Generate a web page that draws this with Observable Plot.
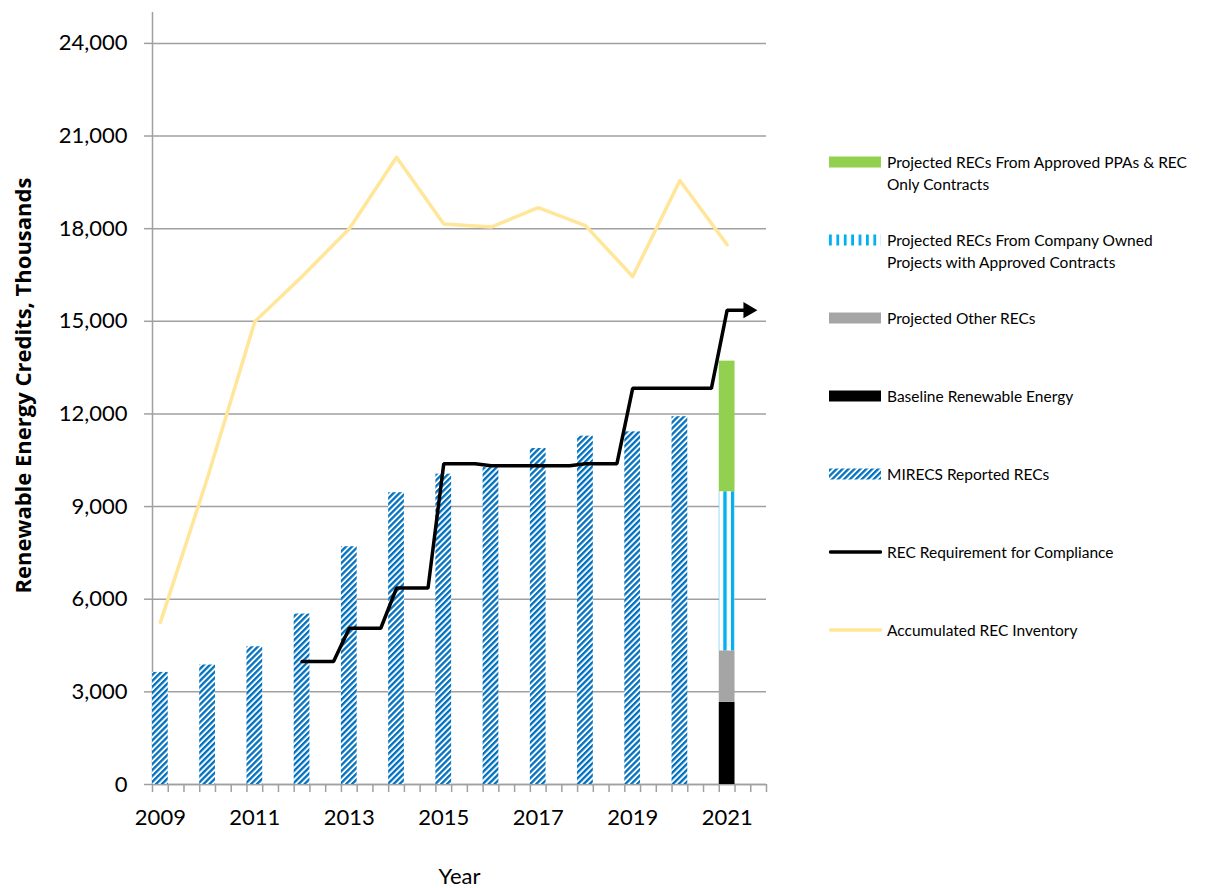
<!DOCTYPE html>
<html>
<head>
<meta charset="utf-8">
<script src="https://cdn.jsdelivr.net/npm/d3@7"></script>
<script src="https://cdn.jsdelivr.net/npm/@observablehq/plot@0.6"></script>
<style>
  body { margin: 0; background: #fff; }
  #wrap { position: relative; width: 1218px; height: 888px; font-family: Lato, "Open Sans", sans-serif; }
  #chart { position: absolute; left: 0; top: 0; }
  .lg { position: absolute; left: 829px; display: flex; align-items: flex-start; font-size: 15.5px; line-height: 22px; color: #000; }
  .lg .sw { width: 53px; height: 22px; flex: none; margin-right: 5px; }
</style>
</head>
<body>
<div id="wrap">
  <svg width="0" height="0" style="position:absolute">
    <defs>
      <pattern id="hatch" width="4.2" height="10" patternUnits="userSpaceOnUse" patternTransform="rotate(45)">
        <rect width="4.2" height="10" fill="#ffffff"></rect>
        <rect width="2.3" height="10" fill="#0070C0"></rect>
      </pattern>
      <pattern id="vstripe" x="723.3" width="7.7" height="10" patternUnits="userSpaceOnUse">
        <rect width="7.7" height="10" fill="#ffffff"></rect>
        <rect width="3.4" height="10" fill="#00B0F0"></rect>
      </pattern>
      <pattern id="vstripeLg" x="0" width="7.4" height="10" patternUnits="userSpaceOnUse">
        <rect width="7.4" height="10" fill="#ffffff"></rect>
        <rect width="2.8" height="10" fill="#00B0F0"></rect>
      </pattern>
    </defs>
  </svg>
  <div id="chart"></div>
</div>
<script>
// ---------------- data ----------------
const years = [2009, 2010, 2011, 2012, 2013, 2014, 2015, 2016, 2017, 2018, 2019, 2020, 2021];
const mirecsYears = [2009, 2010, 2011, 2012, 2013, 2014, 2015, 2016, 2017, 2018, 2019, 2020];
const mirecsValues = [3630, 3870, 4460, 5520, 7700, 9450, 10050, 10260, 10880, 11280, 11420, 11910];
const inventoryValues = [5250, 9940, 14990, 16450, 18000, 20310, 18150, 18050, 18680, 18100, 16450, 19560, 17480];
const reqYears = [2012, 2013, 2014, 2015, 2016, 2017, 2018, 2019, 2020, 2021];
const reqValues = [3980, 5060, 6360, 10390, 10320, 10320, 10390, 12830, 12830, 15360];
const reqArrowEnd = 2021.38;
const projYear = 2021;
const projSeries = ["Baseline Renewable Energy", "Projected Other RECs", "Projected RECs From Company Owned Projects with Approved Contracts", "Projected RECs From Approved PPAs & REC Only Contracts"];
const projValues = [2660, 1670, 5150, 4230];
const projFills = ["#000000", "#A5A5A5", "url(#vstripe)", "#92D050"];
const xTickLabels = [2009, 2011, 2013, 2015, 2017, 2019, 2021];
const yTicks = [0, 3000, 6000, 9000, 12000, 15000, 18000, 21000, 24000];
const legendLabels = [
  "Projected RECs From Approved PPAs & REC<br>Only Contracts",
  "Projected RECs From Company Owned<br>Projects with Approved Contracts",
  "Projected Other RECs",
  "Baseline Renewable Energy",
  "MIRECS Reported RECs",
  "REC Requirement for Compliance",
  "Accumulated REC Inventory"
];
const legendKinds = ["#92D050", "url(#vstripeLg)", "#A5A5A5", "#000000", "url(#hatch)", "line:#000000", "line:#FFE699"];

// ---------------- derived tables ----------------
const halfW = 1 / 6;
const bars = mirecsYears.map((y, i) => ({year: y, value: mirecsValues[i]}));
const inventory = years.map((y, i) => ({year: y, value: inventoryValues[i]}));
const req = [];
reqYears.forEach((y, i) => {
  if (i > 0) req.push({year: y - 1 / 3, value: reqValues[i - 1]});
  req.push({year: y, value: reqValues[i]});
});
req.push({year: reqArrowEnd, value: reqValues[reqValues.length - 1]});
let cum = 0;
const stack = projValues.map((v, i) => {
  const r = {year: projYear, y1: cum, y2: cum + v, fill: projFills[i], series: projSeries[i]};
  cum += v;
  return r;
});
const xMin = years[0] - halfW, xMax = years[years.length - 1] + 5 * halfW;
const minorTicks = d3.range(0, 40).map(k => xMin + k / 3);

const grid = "#a0a0a0";

const chart = Plot.plot({
  width: 800,
  height: 888,
  marginLeft: 152,
  marginRight: 34,
  marginTop: 12,
  marginBottom: 104,
  style: {fontFamily: "Lato, 'Open Sans', sans-serif", fontSize: "22px", color: "#000", background: "white"},
  x: {type: "linear", domain: [xMin, xMax]},
  y: {domain: [0, 25000]},
  marks: [
    Plot.gridY(yTicks, {stroke: grid, strokeOpacity: 1, strokeWidth: 1.5}),
    Plot.axisY(yTicks, {tickSize: 8, tickPadding: 17, stroke: grid, strokeOpacity: 1, strokeWidth: 1.5, tickFormat: d3.format(","), label: null}),
    Plot.axisX(minorTicks, {tickSize: 8, stroke: grid, strokeOpacity: 1, strokeWidth: 1.5, tickFormat: () => "", label: null}),
    Plot.axisX(xTickLabels, {tickSize: 0, tickPadding: 25, tickFormat: d => String(d), label: null}),
    Plot.ruleX([xMin], {stroke: grid, strokeWidth: 1.5, y1: 0, y2: 25000}),
    Plot.ruleY([0], {stroke: grid, strokeWidth: 1.5}),
    Plot.rectY(bars, {x1: d => d.year - halfW, x2: d => d.year + halfW, y1: 0, y2: "value", fill: "url(#hatch)"}),
    ...stack.map(s => Plot.rectY([s], {x1: d => d.year - halfW, x2: d => d.year + halfW, y1: "y1", y2: "y2", fill: s.fill})),
    Plot.line(inventory, {x: "year", y: "value", stroke: "#FFE699", strokeWidth: 3.5, strokeLinejoin: "round", strokeLinecap: "round"}),
    Plot.line(req, {x: "year", y: "value", stroke: "#000", strokeWidth: 3.5, strokeLinejoin: "miter"}),
    Plot.dot([req[req.length - 1]], {x: "year", y: "value", symbol: "triangle", rotate: 90, r: 6, fill: "#000", stroke: "none", dx: 3}),
    Plot.text(["Renewable Energy Credits, Thousands"], {frameAnchor: "left", textAnchor: "middle", rotate: -90, dx: -129, dy: -13, fontWeight: "bold", fontSize: 22, fontFamily: "'Open Sans', Lato, sans-serif", text: d => d}),
    Plot.text(["Year"], {frameAnchor: "bottom", dy: 99, fontSize: 22, text: d => d})
  ]
});
document.getElementById("chart").appendChild(chart);

// ---------------- legend ----------------
const wrap = document.getElementById("wrap");
legendLabels.forEach((lab, i) => {
  const cy = 162 + 78 * i;
  const div = document.createElement("div");
  div.className = "lg";
  div.style.top = (cy - 11) + "px";
  const kind = legendKinds[i];
  let sw;
  if (kind.startsWith("line:")) {
    sw = `<svg class="sw" width="53" height="22"><line x1="1.5" x2="51.5" y1="11" y2="11" stroke="${kind.slice(5)}" stroke-width="3.5" stroke-linecap="round"></line></svg>`;
  } else {
    sw = `<svg class="sw" width="53" height="22"><rect x="0" y="5.5" width="52" height="11" fill="${kind}"></rect></svg>`;
  }
  div.innerHTML = sw + `<span>${lab}</span>`;
  wrap.appendChild(div);
});
</script>
</body>
</html>
